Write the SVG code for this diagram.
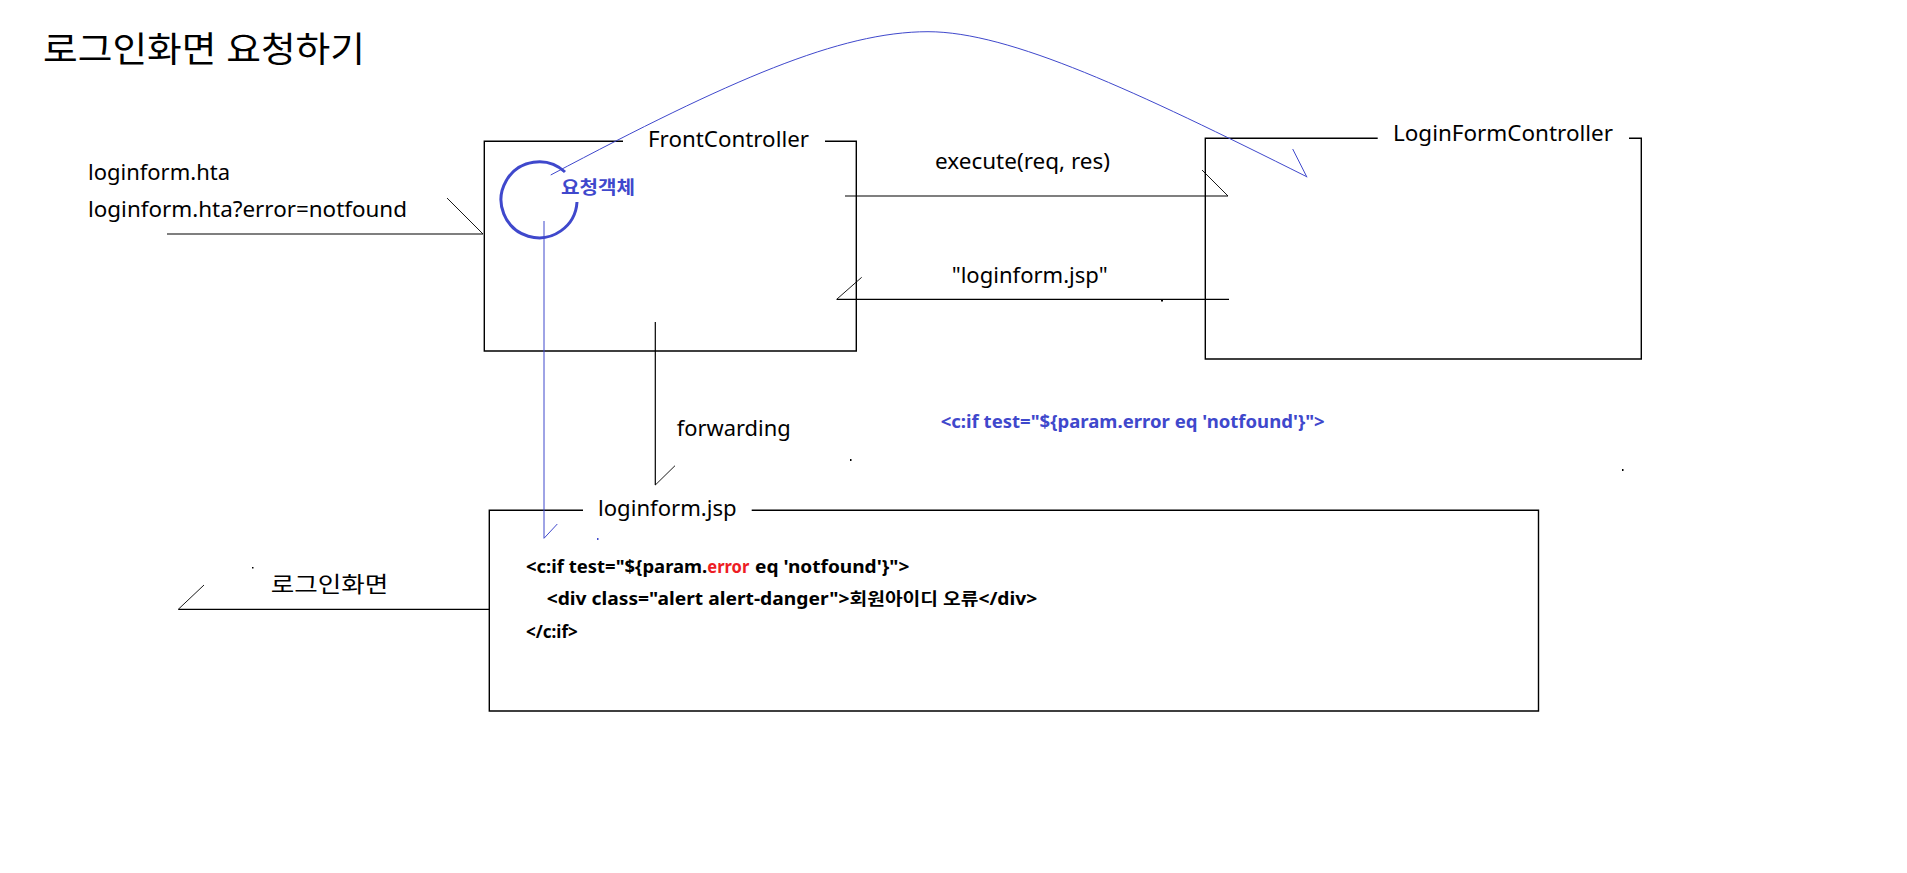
<svg xmlns="http://www.w3.org/2000/svg" width="1907" height="873" viewBox="0 0 1907 873">
<style>
text{font-family:"Noto Sans","Noto Sans CJK KR",sans-serif;fill:#000}
.t{font-size:22px}
.title{font-size:35px}
.code{font-size:17px;font-weight:bold}
.blue{fill:#3F48CC}
.red{fill:#ED1C24}
.box{fill:none;stroke:#000;stroke-width:1.4}
.ln{fill:none;stroke:#000;stroke-width:1.2}
.barb{fill:none;stroke:#000;stroke-width:0.9}
.bl{fill:none;stroke:#3F48CC;stroke-width:1}
</style>
<rect width="1907" height="873" fill="#fff"/>
<g id="title">
<text class="title" x="43" y="62" textLength="322" lengthAdjust="spacingAndGlyphs">로그인화면 요청하기</text>
</g>
<g id="request-labels">
<text class="t" x="88" y="180" textLength="142" lengthAdjust="spacingAndGlyphs">loginform.hta</text>
<text class="t" x="88" y="217" textLength="319" lengthAdjust="spacingAndGlyphs">loginform.hta?error=notfound</text>
</g>
<g id="front-controller">
<path class="box" d="M623 141.3H484.3V351H856.3V141.3H825"/>
<text class="t" x="648" y="147" textLength="161" lengthAdjust="spacingAndGlyphs">FrontController</text>
<path d="M565 172A38 38 0 1 0 577 202" fill="none" stroke="#3F48CC" stroke-width="3"/>
<text class="blue" x="561" y="194" font-size="18" font-weight="bold" textLength="74" lengthAdjust="spacingAndGlyphs">요청객체</text>
</g>
<g id="login-form-controller">
<path class="box" d="M1377.7 138.3H1205.3V359H1641.3V138.3H1629"/>
<text class="t" x="1393" y="140.7" textLength="220" lengthAdjust="spacingAndGlyphs">LoginFormController</text>
</g>
<g id="loginform-jsp">
<path class="box" d="M583 510.3H489.3V711H1538.5V510.3H751.7"/>
<text class="t" x="598" y="516" textLength="138.7" lengthAdjust="spacingAndGlyphs">loginform.jsp</text>
<text class="code" x="526" y="572.7" textLength="181.3" lengthAdjust="spacingAndGlyphs">&lt;c:if test="${param.</text>
<text class="code red" x="707.3" y="572.7" textLength="42" lengthAdjust="spacingAndGlyphs">error</text>
<text class="code" x="755" y="572.7" textLength="154.3" lengthAdjust="spacingAndGlyphs">eq 'notfound'}"&gt;</text>
<text class="code" x="546.7" y="605" textLength="490.6" lengthAdjust="spacingAndGlyphs">&lt;div class="alert alert-danger"&gt;회원아이디 오류&lt;/div&gt;</text>
<text class="code" x="526" y="637.7">&lt;/c:if&gt;</text>
</g>
<g id="connectors">
<path class="ln" d="M167 234H483"/>
<path class="barb" d="M447 198L483 234"/>
<path class="ln" d="M845 196H1228"/>
<path class="barb" d="M1202 170L1228 196"/>
<path class="ln" d="M1229 299.3H836.7"/>
<path class="barb" d="M836.7 299.3L861.7 277.3"/>
<path class="ln" d="M655.3 322V485"/>
<path class="barb" d="M655.3 485L675 465.7"/>
<path class="ln" d="M489.3 609.3H178.3"/>
<path class="barb" d="M178.3 609.3L204 585"/>
<path class="bl" d="M544 221V538.3"/>
<path class="bl" d="M544 538.3L557.3 524"/>
<path class="bl" d="M550.7 175C730 80 840 31.7 928 31.7C1010 31.7 1136.7 91.7 1306.7 176.7"/>
<path class="bl" d="M1292.7 149L1307 177.3"/>
</g>
<g id="labels">
<text class="t" x="935" y="169" textLength="175" lengthAdjust="spacingAndGlyphs">execute(req, res)</text>
<text class="t" x="951.7" y="282.7" textLength="156" lengthAdjust="spacingAndGlyphs">"loginform.jsp"</text>
<text class="t" x="676.7" y="436" textLength="114" lengthAdjust="spacingAndGlyphs">forwarding</text>
<text class="code blue" x="940.7" y="428.3" textLength="384" lengthAdjust="spacingAndGlyphs">&lt;c:if test="${param.error eq 'notfound'}"&gt;</text>
<text class="t" x="270.7" y="591.7" textLength="117.6" lengthAdjust="spacingAndGlyphs">로그인화면</text>
</g>
<g id="specks">
<rect x="1161" y="299.5" width="2" height="2"/>
<rect x="850" y="459" width="1.5" height="2"/>
<rect x="1622" y="469" width="1.5" height="2"/>
<rect x="252" y="567" width="1.5" height="1.5"/>
<rect x="597" y="538" width="1.5" height="2" fill="#3F48CC"/>
</g>
</svg>
